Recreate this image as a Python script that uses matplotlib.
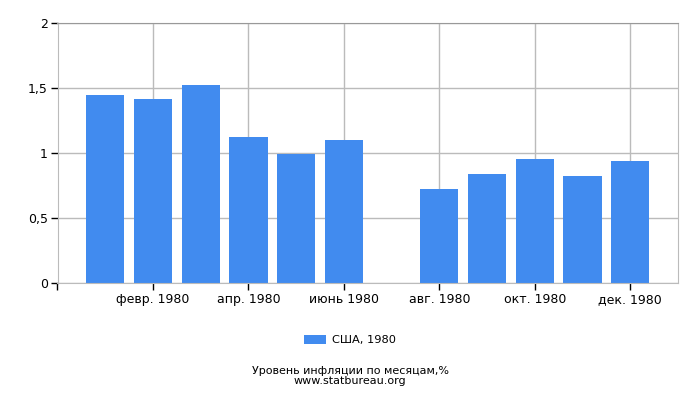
import numpy as np
from matplotlib import pyplot as plt

months = ["янв. 1980", "февр. 1980", "март 1980", "апр. 1980", "май 1980", "июнь 1980",
          "июль 1980", "авг. 1980", "сент. 1980", "окт. 1980", "нояб. 1980", "дек. 1980"]
values = [1.44, 1.41, 1.52, 1.12, 0.99, 1.10, 0.0, 0.72, 0.84, 0.95, 0.82, 0.94]
y_ticks = [0, 0.5, 1, 1.5, 2]
y_labels = ["0", "0,5", "1", "1,5", "2"]
series_name = "США, 1980"
title = "Уровень инфляции по месяцам,%"
source = "www.statbureau.org"

fig = plt.figure(figsize=(7, 4), dpi=100)
ax = fig.add_axes([57.5 / 700, 1 - 283 / 400, (678 - 57.5) / 700, (283 - 22.5) / 400])

x = np.arange(len(months))
ax.bar(x, values, width=0.8, color="#418bef", zorder=2, label=series_name)

tick_pos = [-1] + list(x[1::2])
tick_lab = [""] + months[1::2]
ax.set_xticks(tick_pos)
ax.set_xticklabels(tick_lab, fontsize=9)
ax.set_xlim(-1, 12)
ax.set_ylim(0, 2)
ax.set_yticks(y_ticks)
ax.set_yticklabels(y_labels, fontsize=9)

ax.grid(True, color="#bbbbbb", linewidth=1, zorder=0)
for s in ax.spines.values():
    s.set_color("#bbbbbb")
ax.spines["top"].set_color("#999999")
ax.tick_params(axis="both", length=5, width=1, color="#000000", pad=2)

fig.legend(loc="center", bbox_to_anchor=(0.5, 1 - 340 / 400), frameon=False,
           fontsize=8.2, handlelength=1.9, handleheight=0.8, handletextpad=0.5)
fig.text(0.5, 1 - 370.5 / 400, title, ha="center", va="center", fontsize=8)
fig.text(0.5, 1 - 381.5 / 400, source, ha="center", va="center", fontsize=8)

fig.savefig("out.png", dpi=100)
